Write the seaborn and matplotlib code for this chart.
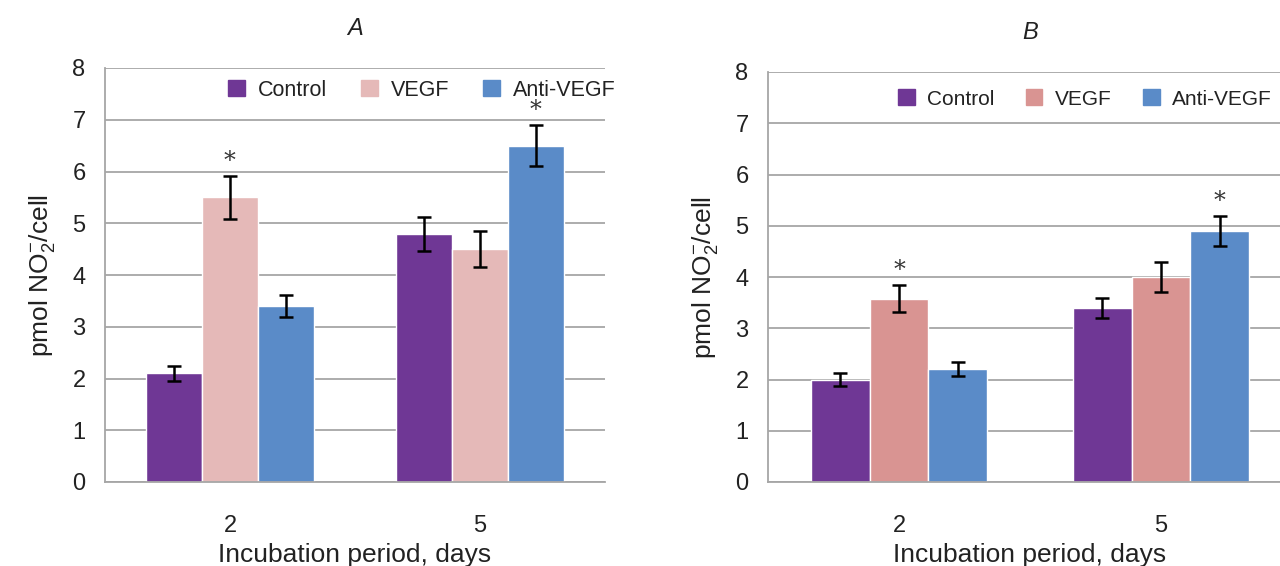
import pandas as pd
import seaborn as sns
import matplotlib.pyplot as plt
from matplotlib.patches import Patch

days = ['2', '5']
groups = ['Control', 'VEGF', 'Anti-VEGF']

# panel A
a_control = [2.1, 4.8]
a_vegf = [5.5, 4.5]
a_anti = [3.4, 6.5]
a_control_err = [0.15, 0.33]
a_vegf_err = [0.42, 0.35]
a_anti_err = [0.21, 0.40]

# panel B
b_control = [2.0, 3.4]
b_vegf = [3.58, 4.0]
b_anti = [2.2, 4.9]
b_control_err = [0.13, 0.20]
b_vegf_err = [0.27, 0.29]
b_anti_err = [0.14, 0.29]

# which bars get an asterisk (group, day)
a_stars = [('VEGF', '2'), ('Anti-VEGF', '5')]
b_stars = [('VEGF', '2'), ('Anti-VEGF', '5')]

sns.set_theme(style='white')
plt.rcParams['font.family'] = ['Liberation Sans', 'DejaVu Sans']
plt.rcParams['mathtext.fontset'] = 'custom'
plt.rcParams['mathtext.rm'] = 'Liberation Sans'


def make_df(ctrl, vegf, anti, ctrl_e, vegf_e, anti_e):
    rows = []
    for g, vals, errs in zip(groups, [ctrl, vegf, anti], [ctrl_e, vegf_e, anti_e]):
        for d, v, e in zip(days, vals, errs):
            rows.append({'day': d, 'group': g, 'value': v, 'err': e})
    return pd.DataFrame(rows)


df_a = make_df(a_control, a_vegf, a_anti, a_control_err, a_vegf_err, a_anti_err)
df_b = make_df(b_control, b_vegf, b_anti, b_control_err, b_vegf_err, b_anti_err)

pal_a = {'Control': '#6F3795', 'VEGF': '#E5B9B8', 'Anti-VEGF': '#5A8BC8'}
pal_b = {'Control': '#6F3795', 'VEGF': '#D99492', 'Anti-VEGF': '#5A8BC8'}

fig = plt.figure(figsize=(12.8, 5.66), dpi=100)
ax_a = fig.add_axes([105 / 1280, 84 / 566, 500 / 1280, 414 / 566])
ax_b = fig.add_axes([768 / 1280, 84 / 566, 524 / 1280, 410 / 566])


def draw(ax, df, pal, stars, title, leg_xy, leg_size, leg_space):
    sns.barplot(data=df, x='day', y='value', hue='group', order=days,
                hue_order=groups, palette=pal, width=0.67, saturation=1,
                errorbar=None, legend=False, ax=ax)
    # error bars at bar centres (patches come ordered by hue then category)
    for i, p in enumerate(ax.patches[:len(df)]):
        row = df.iloc[i]
        cx = p.get_x() + p.get_width() / 2
        ax.errorbar(cx, row['value'], yerr=row['err'], color='black',
                    lw=1.8, capsize=5, capthick=1.8, zorder=5)
        if (row['group'], row['day']) in stars:
            ax.text(cx, row['value'] + row['err'] + 0.06, '*', ha='center',
                    va='bottom', fontsize=17, color='#333333',
                    family='DejaVu Serif')
    ax.set_ylim(0, 8)
    ax.set_xlim(-0.5, 1.5)
    ax.set_yticks(range(0, 9))
    ax.yaxis.grid(True, color='#A6A6A6', lw=1.3)
    ax.set_axisbelow(True)
    for s in ['top', 'right']:
        ax.spines[s].set_visible(False)
    ax.spines['left'].set_color('#A6A6A6')
    ax.spines['bottom'].set_color('#A6A6A6')
    ax.spines['left'].set_linewidth(1.3)
    ax.spines['bottom'].set_linewidth(1.3)
    ax.tick_params(axis='y', which='major', direction='out', length=8,
                   color='#A6A6A6', width=1.3, labelsize=17, pad=6,
                   labelcolor='#222222')
    ax.tick_params(axis='x', which='major', length=0, labelsize=17, pad=24,
                   labelcolor='#222222')
    ax.set_xticks([-0.5, 0.5, 1.5], minor=True)
    ax.tick_params(axis='x', which='minor', direction='out', length=8,
                   color='#A6A6A6', width=1.3)
    ax.set_xlabel('Incubation period, days', fontsize=19, labelpad=4,
                  color='#222222')
    ax.set_ylabel(r'pmol NO$_\mathregular{2}^\mathregular{-}$/cell', fontsize=19,
                  labelpad=10, color='#222222')
    ax.set_title(title, fontsize=17, style='italic', pad=24, color='#222222')
    handles = [Patch(color=pal[g], label=g) for g in groups]
    ax.legend(handles=handles, ncol=3, loc='center left',
              bbox_to_anchor=leg_xy, bbox_transform=fig.transFigure,
              frameon=False, fontsize=leg_size, handlelength=0.8,
              handleheight=0.8, handletextpad=0.6, columnspacing=leg_space,
              borderaxespad=0, borderpad=0, labelcolor='#222222')


draw(ax_a, df_a, pal_a, a_stars, 'A', (228 / 1280, 1 - 90 / 566), 15.5, 1.55)
draw(ax_b, df_b, pal_b, b_stars, 'B', (898 / 1280, 1 - 99 / 566), 15, 1.5)

plt.savefig('out.png', dpi=100)
